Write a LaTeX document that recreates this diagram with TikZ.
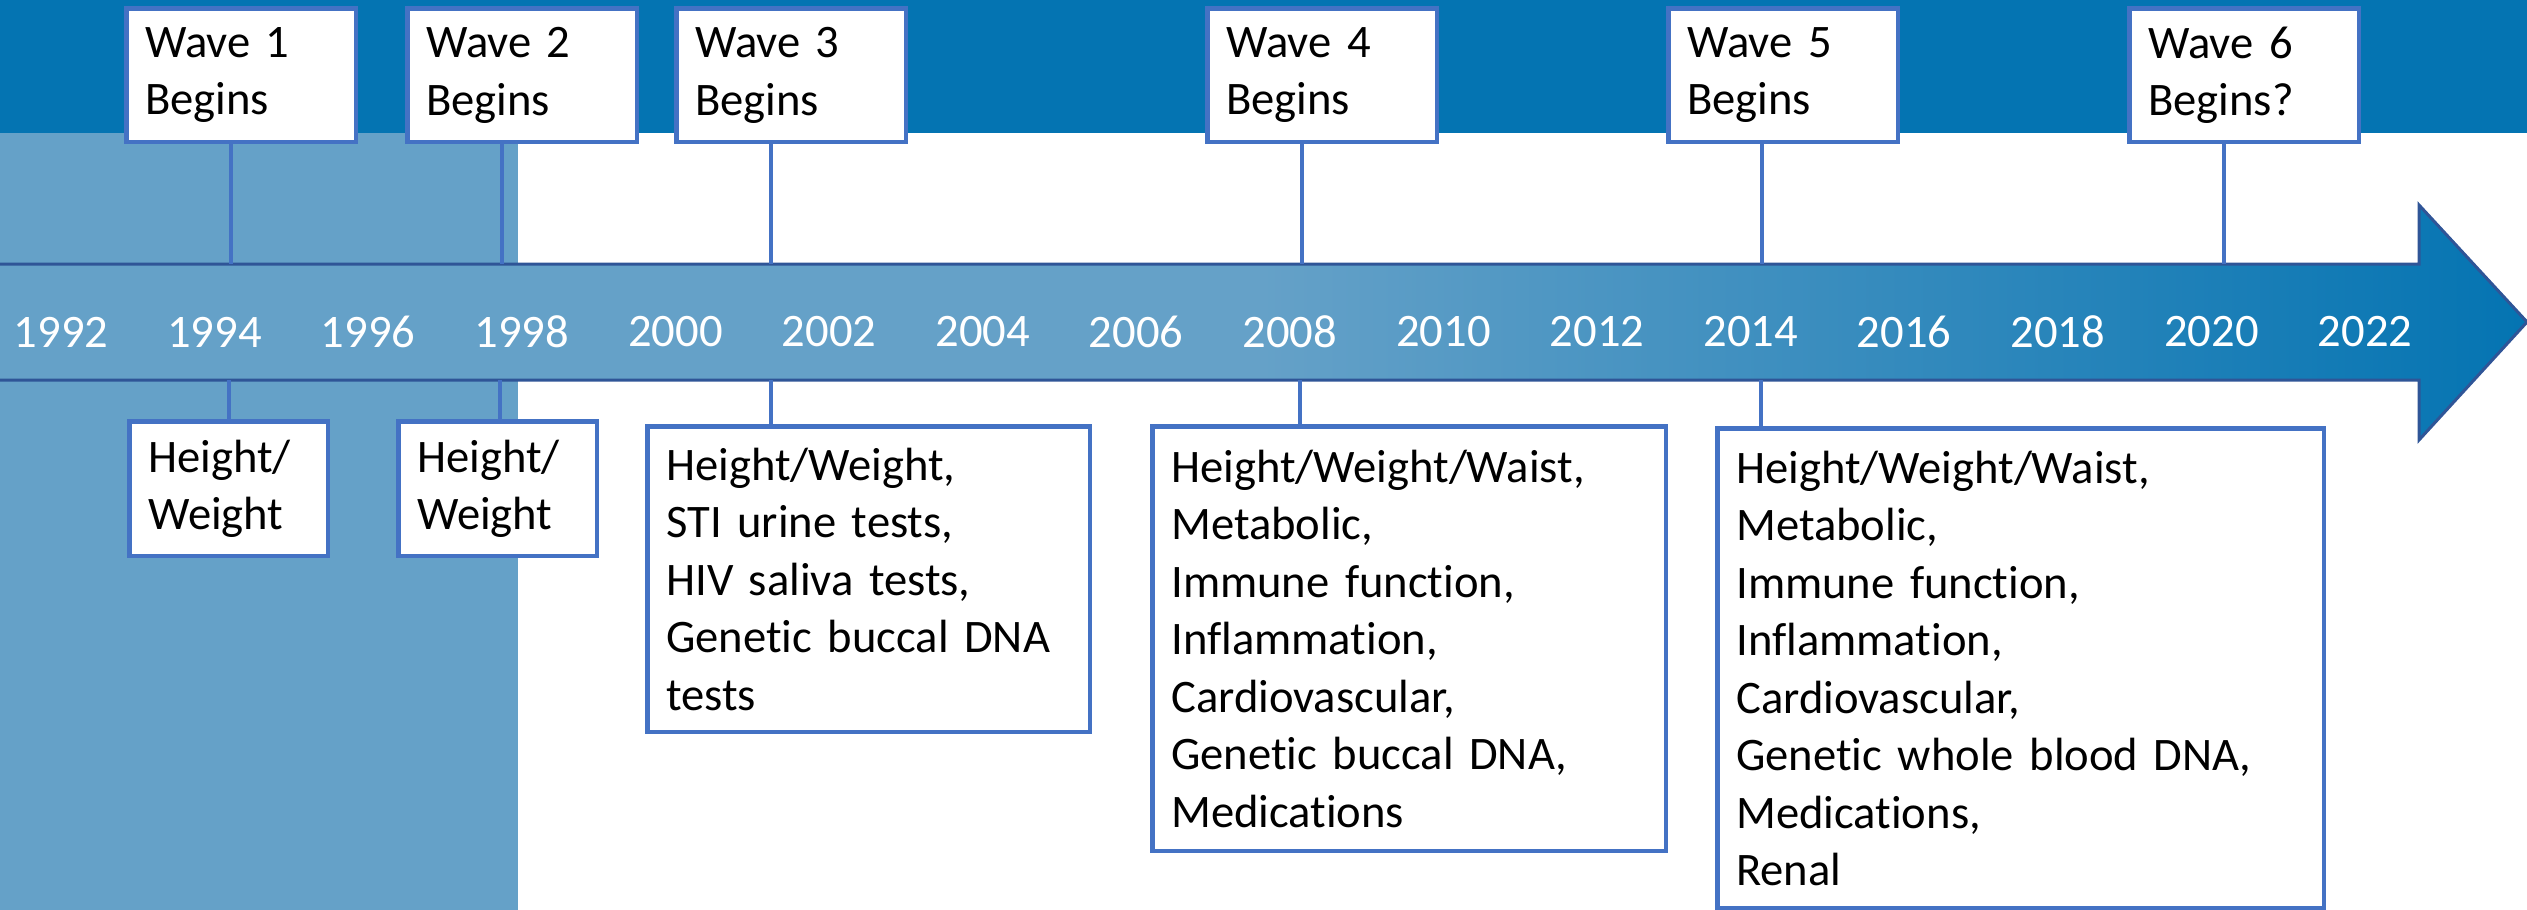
\documentclass[tikz,border=0pt]{standalone}
\usepackage{fontspec}
\setmainfont{Carlito}[Ligatures={NoCommon,NoRare,NoContextual}]
\definecolor{bandblue}{RGB}{4,116,178}
\definecolor{paleblue}{RGB}{101,161,200}
\definecolor{boxblue}{RGB}{68,114,196}
\definecolor{edgeblue}{RGB}{47,85,151}
\pgfdeclarehorizontalshading{timeline}{100bp}{color(0bp)=(paleblue);color(25bp)=(paleblue);color(50bp)=(paleblue);color(75bp)=(bandblue);color(100bp)=(bandblue)}
\begin{document}
\begin{tikzpicture}[x=1pt,y=-1pt,font=\fontsize{46.6}{57.5}\selectfont,
	wave/.style={draw=boxblue,line width=4.5pt,fill=white,anchor=north west,align=left,inner xsep=18.75pt,inner ysep=2pt,text width=192pt,minimum height=133.5pt},
	measure/.style={draw=boxblue,line width=4.5pt,fill=white,anchor=north west,align=left,inner xsep=18.75pt,inner ysep=2pt},
	year/.style={text=white,inner sep=0pt},
	link/.style={draw=boxblue,line width=4.5pt}]
	    \clip(0,0)rectangle(2527,910);
	    \fill[bandblue](0,0)rectangle(2527,133);% 上の帯
	    \fill[paleblue](0,133)rectangle(518,910);

	    % 矢印
	    \draw[edgeblue,line width=3pt,shading=timeline](-5,264)--(2419,264)--(2419,205)--(2527,322)--(2419,440)--(2419,380)--(-5,380)--cycle;
	    \foreach\y[count=\i from 0]in{1992,1994,...,2022}
	    	\node[year](Y\y)at({61+153.6*\i},332){\y};

	    \coordinate(T1)at(231,264);
	    \coordinate(T2)at(502,264);
	    \coordinate(T3)at(771,264);
	    \coordinate(T4)at(1302,264);
	    \coordinate(T5)at(1762,264);
	    \coordinate(T6)at(2224,264);
	    \coordinate(B1)at(229,380);
	    \coordinate(B2)at(500,380);
	    \coordinate(B3)at(771,380);
	    \coordinate(B4)at(1300,380);
	    \coordinate(B5)at(1761,380);

	    \node[wave](W1)at(124.25,6.25){Wave 1\\Begins};
	    \node[wave](W2)at(405.25,6.25){Wave 2\\Begins};
	    \node[wave](W3)at(674.25,6.25){Wave 3\\Begins};
	    \node[wave](W4)at(1205.25,6.25){Wave 4\\Begins};
	    \node[wave](W5)at(1666.25,6.25){Wave 5\\Begins};
	    \node[wave](W6)at(2127.25,6.25){Wave 6\\Begins?};

	    \node[measure,text width=161pt,minimum height=134.5pt](M1)at(127.25,419.25){Height/\\Weight};
	    \node[measure,text width=161pt,minimum height=134.5pt](M2)at(396.25,419.25){Height/\\Weight};
	    \node[measure,text width=405pt,minimum height=305.5pt](M3)at(645.25,424.25){Height/Weight,\\STI urine tests,\\HIV saliva tests,\\Genetic buccal DNA\\tests};
	    \node[measure,text width=476pt,minimum height=424.5pt](M4)at(1150.25,424.25){Height/Weight/Waist,\\Metabolic,\\Immune function,\\Inflammation,\\Cardiovascular,\\Genetic buccal DNA,\\Medications};
	    \node[measure,text width=569pt,minimum height=479.5pt](M5)at(1715.25,426.25){Height/Weight/Waist,\\Metabolic,\\Immune function,\\Inflammation,\\Cardiovascular,\\Genetic whole blood DNA,\\Medications,\\Renal};

	    \draw[link](W1.south-|T1)--(T1);
	    \draw[link](W2.south-|T2)--(T2);
	    \draw[link](W3.south-|T3)--(T3);
	    \draw[link](W4.south-|T4)--(T4);
	    \draw[link](W5.south-|T5)--(T5);
	    \draw[link](W6.south-|T6)--(T6);
	    \draw[link](B1)--(B1|-M1.north);
	    \draw[link](B2)--(B2|-M2.north);
	    \draw[link](B3)--(B3|-M3.north);
	    \draw[link](B4)--(B4|-M4.north);
	    \draw[link](B5)--(B5|-M5.north);
\end{tikzpicture}
\end{document}
